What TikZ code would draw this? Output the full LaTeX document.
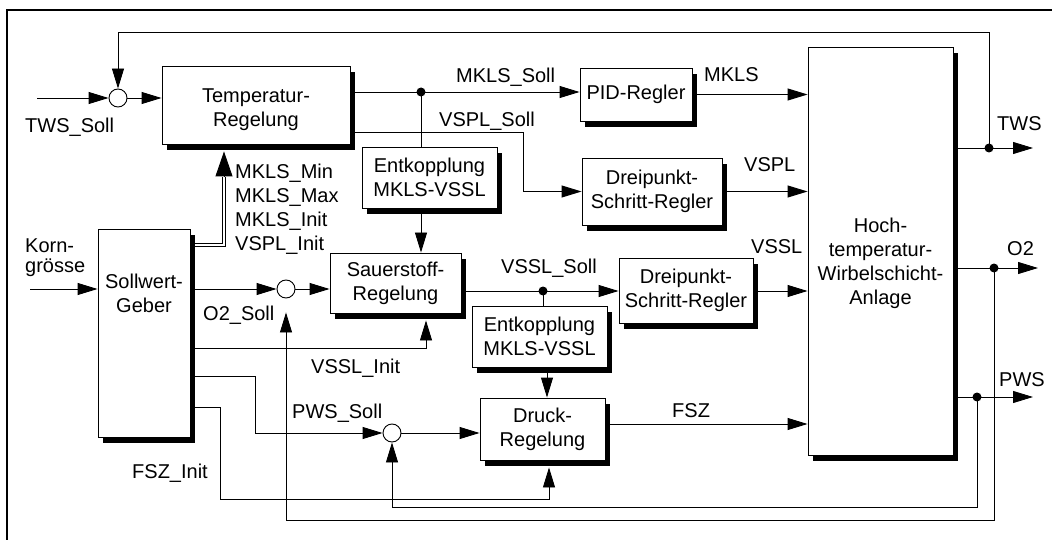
\documentclass[tikz,border=0pt]{standalone}
\usepackage{fontspec}
\setmainfont{Liberation Sans}
\usetikzlibrary{arrows.meta,shadows}
\pgfdeclarelayer{bg}
\pgfsetlayers{bg,main}
\begin{document}
\begin{tikzpicture}[x=1pt,y=-1pt,
  font=\fontsize{20}{24}\selectfont,
  blk/.style={draw,line width=0.9pt,fill=white,align=center,inner sep=0pt,
    drop shadow={shadow xshift=5pt,shadow yshift=-6pt,fill=black,opacity=1}},
  txt/.style={inner sep=0pt,align=center},
  sumc/.style={circle,draw,line width=0.9pt,fill=white,minimum size=18pt,inner sep=0pt},
  dotn/.style={circle,fill=black,minimum size=9pt,inner sep=0pt},
  ln/.style={line width=0.9pt},
  arr/.style={line width=0.9pt,-{Triangle[length=20pt,width=12pt]}},
  bigarr/.style={line width=0.9pt,-{Triangle[length=25pt,width=17pt]}},
  dblline/.style={double=white,double distance=2pt,line width=0.9pt},
  lbl/.style={inner sep=0pt,anchor=base west},
  lbl2/.style={inner sep=0pt,anchor=west,align=left}
]
\useasboundingbox (0,0) rectangle (1052,540);
% frame
\draw[line width=2.2pt] (7,560) -- (7,10) -- (1070,10);

% blocks
\node[blk,minimum width=188pt,minimum height=78pt] (TR) at (256,105) {};
\node[txt] (TRt) at (256,110) {Temperatur-\\Regelung};
\node[blk,minimum width=92pt,minimum height=208pt] (SG) at (144,333) {};
\node[txt] (SGt) at (144,293) {Sollwert-\\Geber};
\node[blk,minimum width=131pt,minimum height=60pt] (SR) at (395.5,283) {Sauerstoff-\\Regelung};
\node[blk,minimum width=135pt,minimum height=61pt] (E1) at (429.5,177.5) {Entkopplung\\MKLS-VSSL};
\node[blk,minimum width=112pt,minimum height=53pt] (PID) at (636,94.5) {PID-Regler};
\node[blk,minimum width=140pt,minimum height=67pt] (D1) at (652,191.5) {Dreipunkt-\\Schritt-Regler};
\node[blk,minimum width=134pt,minimum height=65pt] (D2) at (686,290.5) {Dreipunkt-\\Schritt-Regler};
\node[blk,minimum width=135pt,minimum height=61pt] (E2) at (539.5,336.5) {Entkopplung\\MKLS-VSSL};
\node[blk,minimum width=125pt,minimum height=62pt] (DR) at (542.5,429) {Druck-\\Regelung};
\node[blk,minimum width=145pt,minimum height=408pt] (H) at (880.5,251) {};
\node[txt] (Ht) at (880.5,263) {Hoch-\\temperatur-\\Wirbelschicht-\\Anlage};

% summing points and junction dots
\node[sumc] (S1) at (118,98) {};
\node[sumc] (S2) at (286,289) {};
\node[sumc] (S3) at (392,433) {};
\node[dotn] (dM) at (421,92) {};
\node[dotn] (dV) at (543,291) {};
\node[dotn] (dT) at (989,148) {};
\node[dotn] (dO) at (994,268) {};
\node[dotn] (dP) at (977,397) {};

% helper coordinates
\coordinate (tin) at (37,98);
\coordinate (kin) at (30,289);
\coordinate (fbT) at (118,32);
\coordinate (tout) at (1033,148);
\coordinate (oout) at (1038,268);
\coordinate (pout) at (1033,397);
\coordinate (fbO) at (286,520);
\coordinate (fbP) at (392,507);
\coordinate (dbl) at (224,245);
\coordinate (dblt) at (224,177);
\coordinate (vi) at (426,348);
\coordinate (vs) at (523,132);
\coordinate (ps) at (255,376);
\coordinate (fi1) at (220,407);
\coordinate (fi2) at (549,499);
\coordinate (ek) at (547,0);
\coordinate (fz) at (700,424);
\coordinate (TRb) at ([yshift=-7pt]TR.south);
\coordinate (SRb) at ([yshift=-7pt]SR.south);
\coordinate (DRb) at ([yshift=-7pt]DR.south);

\begin{pgfonlayer}{bg}
\draw[arr] (tin) -- (S1);
\draw[arr] (S1) -- (S1 -| TR.west);
\draw[arr] (dT.center) |- (fbT) -- (S1);
\draw[arr] (dT.center -| H.east) -- (tout);
\draw[arr] (dO.center -| H.east) -- (oout);
\draw[arr] (dP.center -| H.east) -- (pout);
\draw[arr,shorten >=14pt] (dO.center) |- (fbO) -- (S2);
\draw[arr] (dP.center) |- (fbP) -- (S3);
\draw[arr] (kin) -- (kin -| SG.west);
\draw[dblline] (SG.east |- dbl) -- (dbl) -- (dblt);
\draw[bigarr] (dblt) -- (TRb -| dblt);
\draw[arr] (SG.east |- S2) -- (S2);
\draw[arr] (S2) -- (S2 -| SR.west);
\draw[arr] (SG.east |- vi) -| (SRb -| vi);
\draw[arr] (E1.south -| dM) -- (SR.north -| dM);
\draw[arr] (TR.east |- dM) -- (PID.west |- dM);
\draw[ln] (dM.center) -- (E1.north -| dM);
\draw[arr] (TR.east |- vs) -- (vs) |- (D1.west);
\draw[arr] (PID.east) -- (PID.east -| H.west);
\draw[arr] (D1.east) -- (D1.east -| H.west);
\draw[arr] (SR.east |- dV) -- (D2.west |- dV);
\draw[ln] (dV.center) -- (E2.north -| dV);
\draw[arr] (D2.east |- dV) -- (H.west |- dV);
\draw[arr] (E2.south -| ek) -- (DR.north -| ek);
\draw[arr] (SG.east |- ps) -- (ps) |- (S3);
\draw[arr] (S3) -- (S3 -| DR.west);
\draw[arr] (SG.east |- fi1) -- (fi1) |- (fi2) -- (fi2 |- DRb);
\draw[arr] (DR.east |- fz) -- (H.west |- fz);
\end{pgfonlayer}

% labels
\node[lbl] (lTWSs) at (25,133) {TWS\_Soll};
\node[lbl2,font=\fontsize{20}{20}\selectfont] (lKorn) at (25,258) {Korn-\\grösse};
\node[lbl2] (lMK) at (235,209) {MKLS\_Min\\MKLS\_Max\\MKLS\_Init\\VSPL\_Init};
\node[lbl] (lO2s) at (203,320) {O2\_Soll};
\node[lbl] (lVSSLi) at (311,373) {VSSL\_Init};
\node[lbl] (lPWSs) at (292,418) {PWS\_Soll};
\node[lbl] (lFSZi) at (132,478) {FSZ\_Init};
\node[lbl] (lMKLSs) at (456,83) {MKLS\_Soll};
\node[lbl] (lVSPLs) at (439,127) {VSPL\_Soll};
\node[lbl] (lVSSLs) at (501,273) {VSSL\_Soll};
\node[lbl] (lMKLS) at (704,82) {MKLS};
\node[lbl] (lVSPL) at (744,172) {VSPL};
\node[lbl] (lVSSL) at (751,253) {VSSL};
\node[lbl] (lTWS) at (997,131) {TWS};
\node[lbl] (lO2) at (1007,255) {O2};
\node[lbl] (lPWS) at (999,386) {PWS};
\node[lbl] (lFSZ) at (672,417) {FSZ};
\end{tikzpicture}
\end{document}
